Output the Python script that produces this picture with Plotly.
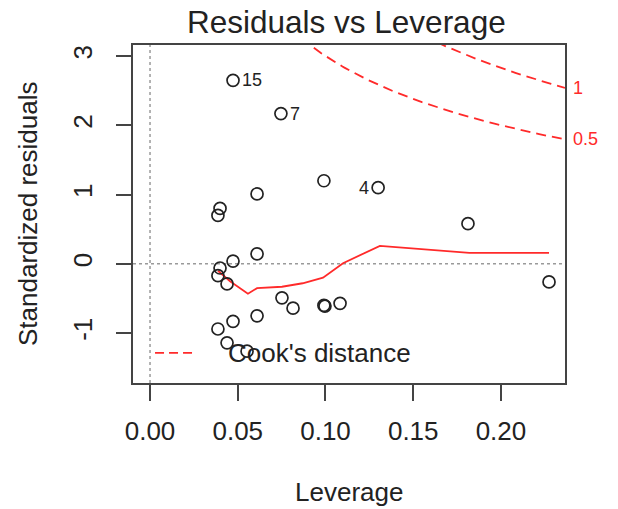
import numpy as np
import plotly.graph_objects as go

# ---- data ----
leverage = [0.0473, 0.0746, 0.1300, 0.0991, 0.0610, 0.0399, 0.0387, 0.1812,
            0.0610, 0.0473, 0.0399, 0.0387, 0.0439, 0.2274, 0.0752, 0.0815,
            0.0997, 0.0991, 0.1083, 0.0610, 0.0473, 0.0387, 0.0439, 0.0553]
std_resid = [2.65, 2.17, 1.10, 1.20, 1.01, 0.80, 0.70, 0.58,
             0.145, 0.04, -0.06, -0.17, -0.29, -0.26, -0.49, -0.64,
             -0.61, -0.60, -0.57, -0.75, -0.83, -0.94, -1.14, -1.26]
point_labels = ["15", "7", "4", "", "", "", "", "",
                "", "", "", "", "", "", "", "",
                "", "", "", "", "", "", "", ""]

smooth_leverage = [0.0387, 0.0456, 0.0558, 0.0610, 0.0752, 0.0870, 0.0986,
                   0.1100, 0.1310, 0.1480, 0.1650, 0.1820, 0.2274]
smooth_resid = [-0.10, -0.25, -0.43, -0.35, -0.33, -0.28, -0.20,
                0.01, 0.26, 0.23, 0.19, 0.16, 0.16]

cook_levels = [0.5, 1]
cook_level_labels = ["0.5", "1"]
n_params = 2

x_ticks = [0.0, 0.05, 0.10, 0.15, 0.20]
x_tick_labels = ["0.00", "0.05", "0.10", "0.15", "0.20"]
y_ticks = [-1, 0, 1, 2, 3]
y_tick_labels = ["-1", "0", "1", "2", "3"]

title_text = "Residuals vs Leverage"
x_title = "Leverage"
y_title = "Standardized residuals"
legend_text = "Cook's distance"

# ---- figure ----
FONT = "Liberation Sans, Arial, Helvetica, sans-serif"
INK = "#222222"
RED = "#ff2a2a"
x_range = [-0.0097, 0.2365]
y_range = [-1.72, 3.16]

fig = go.Figure()

fig.add_trace(go.Scatter(
    x=smooth_leverage, y=smooth_resid, mode="lines",
    line=dict(color=RED, width=1.8), hoverinfo="skip", showlegend=False))

for lvl in cook_levels:
    hh = np.linspace(0.01, x_range[1], 201)
    cy = np.sqrt(lvl * n_params * (1 - hh) / hh)
    fig.add_trace(go.Scatter(
        x=hh, y=cy, mode="lines",
        line=dict(color=RED, width=1.8, dash="10px,6px"),
        hoverinfo="skip", showlegend=False))

fig.add_trace(go.Scatter(
    x=leverage, y=std_resid, mode="markers",
    marker=dict(symbol="circle-open", size=12, color=INK,
                line=dict(width=1.7, color=INK)),
    showlegend=False))

shapes = [
    dict(type="line", xref="paper", yref="y", x0=0, x1=1, y0=0, y1=0,
         line=dict(color="#9a9a9a", width=1.5, dash="dot"), layer="below"),
    dict(type="line", xref="x", yref="paper", x0=0, x1=0, y0=0, y1=1,
         line=dict(color="#9a9a9a", width=1.5, dash="dot"), layer="below"),
    dict(type="line", xref="paper", yref="paper", x0=0.051, x1=0.148,
         y0=0.089, y1=0.089,
         line=dict(color=RED, width=1.8, dash="9px,5px")),
]

annotations = [
    dict(text=title_text, xref="paper", yref="paper", x=0.495, y=1.068,
         xanchor="center", yanchor="middle", showarrow=False,
         font=dict(size=31.5, color=INK, family=FONT)),
    dict(text=x_title, xref="paper", yref="paper", x=0.5, y=-0.3225,
         xanchor="center", yanchor="middle", showarrow=False,
         font=dict(size=26, color=INK, family=FONT)),
    dict(text=y_title, xref="paper", yref="paper", x=-0.243, y=0.5,
         xanchor="center", yanchor="middle", showarrow=False, textangle=-90,
         font=dict(size=26, color=INK, family=FONT)),
    dict(text=legend_text, xref="paper", yref="paper", x=0.215, y=0.089,
         xanchor="left", yanchor="middle", showarrow=False,
         font=dict(size=26, color=INK, family=FONT)),
]

mid = (min(leverage) + max(leverage)) / 2
for lx, ly, lab in zip(leverage, std_resid, point_labels):
    if not lab:
        continue
    right_side = lx > mid - 0.005
    annotations.append(dict(
        text=lab, x=lx, y=ly, xref="x", yref="y", showarrow=False,
        xanchor="right" if right_side else "left",
        xshift=-7 if right_side else 7, yanchor="middle",
        font=dict(size=18, color=INK, family=FONT)))

for lvl, lab in zip(cook_levels, cook_level_labels):
    yv = float(np.sqrt(lvl * n_params * (1 - x_range[1]) / x_range[1]))
    annotations.append(dict(
        text=lab, x=x_range[1], y=yv, xref="x", yref="y", showarrow=False,
        xanchor="left", yanchor="middle", xshift=6,
        font=dict(size=18, color=RED, family=FONT)))

axis_common = dict(
    showgrid=False, zeroline=False, showline=True, mirror=True,
    linecolor="#444444", linewidth=2, ticks="outside", tickwidth=2,
    tickcolor="#444444", tickfont=dict(size=26, color=INK, family=FONT))

fig.update_layout(
    width=618, height=509,
    margin=dict(l=133, r=53, t=45, b=126),
    plot_bgcolor="white", paper_bgcolor="white",
    font=dict(family=FONT, color=INK),
    xaxis=dict(range=x_range, tickvals=x_ticks, ticktext=x_tick_labels,
               ticklen=16, ticklabelstandoff=8, **axis_common),
    yaxis=dict(range=y_range, tickvals=y_ticks, ticktext=y_tick_labels,
               ticklen=15, tickangle=-90, ticklabelstandoff=14, **axis_common),
    shapes=shapes, annotations=annotations, showlegend=False)

fig.write_html(
    "out.html",
    config={"displayModeBar": False},
    post_script="document.body.style.margin='0px';"
                "document.body.style.overflow='hidden';")
